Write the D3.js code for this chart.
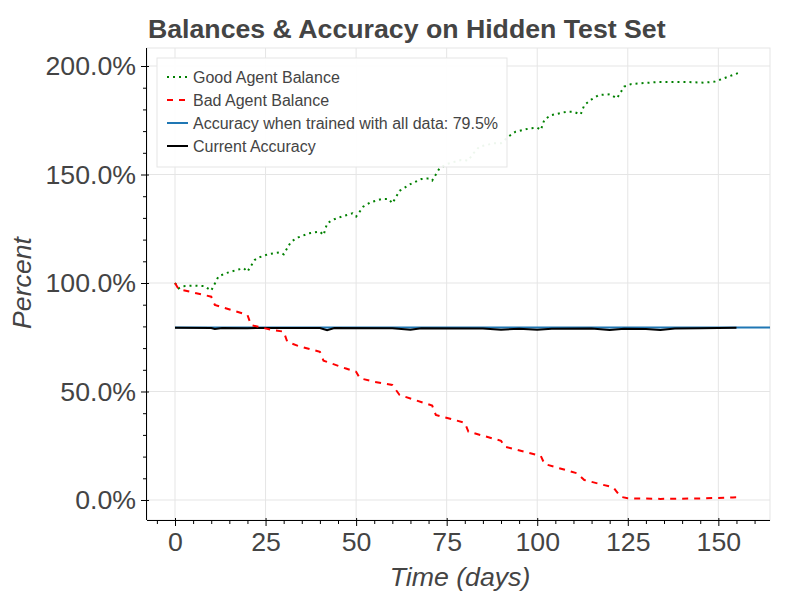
<!DOCTYPE html>
<meta charset="utf-8">
<script src="https://d3js.org/d3.v7.min.js"></script>
<style>
  body { margin: 0; background: #fff; }
  text { font-family: Arial, "Liberation Sans", Helvetica, sans-serif; }
</style>
<div id="my_dataviz"></div>
<script>
// ---- data (day, percent) ----
var goodDays = [0, 1, 2, 5, 8, 10, 12, 14, 17, 19, 20, 22, 23, 26, 29, 30, 32, 34, 37, 40, 41, 42, 44, 46, 49, 50,
  52, 54, 57, 59, 60, 62, 65, 68, 70, 71, 73, 75, 79, 81, 82, 84, 88, 90, 92, 94, 98, 100, 101, 102, 104, 108,
  110, 112, 113, 115, 117, 120, 122, 124, 126, 133, 142, 146, 149, 151, 156];
var goodValues = [100, 97.5, 98.5, 98.8, 98.6, 96.5, 103, 104.5, 106, 106.8, 105.2, 110.6, 111.7, 113.4, 114.1, 113.2,
  119, 121, 122.9, 123.7, 122.1, 127.5, 129.4, 130.6, 132.1, 130.6, 135.2, 137.2, 138.7, 138.7, 136.7, 142.5, 145.6,
  147.9, 148.2, 147.2, 152.8, 154.8, 156.7, 156.4, 159, 162.8, 164.4, 164.4, 167.4, 169.7, 171.3, 171.6, 170.5, 175.4,
  177.4, 178.9, 178.9, 177.7, 182, 184.6, 186.6, 187, 185.1, 190.5, 191.7, 192.6, 192.6, 192.3, 192.8, 194, 197.1];

var badDays = [0, 1, 10, 11, 20, 21, 27, 30, 31, 34, 40, 41, 47, 50, 51, 55, 60, 62, 69, 71, 72, 80, 81, 90, 91,
  101, 102, 111, 113, 121, 123, 125, 134, 145, 154, 156];
var badValues = [100, 97.2, 93.7, 89.9, 85.3, 80.6, 78.3, 77.6, 72.9, 71, 68.3, 64.2, 60.7, 59.1, 56.1, 54.5, 53,
  48.4, 44.6, 43.5, 39.2, 35.6, 31.5, 27.3, 24.6, 20.3, 16.6, 12.3, 9.2, 5.8, 1.5, 0.8, 0.5, 0.7, 1.2, 1.3];

var accDays = [0, 10, 11, 13, 20, 40, 42, 44, 60, 65, 68, 85, 90, 95, 100, 104, 115, 120, 124, 130, 134, 138, 145, 155];
var accValues = [79.4, 79.3, 78.8, 79.3, 79.2, 79.3, 78.3, 79.3, 79.1, 78.5, 79.1, 79.0, 78.5, 78.9, 78.4, 78.9,
  79.0, 78.3, 78.9, 78.8, 78.3, 79.0, 79.2, 79.4];

var fullAccuracy = 79.5;

var xTicks = [0, 25, 50, 75, 100, 125, 150];
var yTicks = [0, 50, 100, 150, 200];

var legendLabels = ["Good Agent Balance", "Bad Agent Balance",
  "Accuracy when trained with all data: 79.5%", "Current Accuracy"];

// ---- layout ----
var margin = {top: 48, right: 30, bottom: 80, left: 147},
    width = 800 - margin.left - margin.right,
    height = 600 - margin.top - margin.bottom;

var svg = d3.select("#my_dataviz")
  .append("svg")
    .attr("width", 800)
    .attr("height", 600);

var g = svg.append("g")
    .attr("transform", "translate(" + margin.left + "," + margin.top + ")");

var x = d3.scaleLinear().domain([-7.73, 164.26]).range([0, width]);
var y = d3.scaleLinear().domain([-9.22, 208.3]).range([height, 0]);

// grid
g.append("g").selectAll("line").data(xTicks).enter().append("line")
  .attr("x1", d => x(d)).attr("x2", d => x(d))
  .attr("y1", 0).attr("y2", height)
  .attr("stroke", "#e5e5e5");
g.append("g").selectAll("line").data(yTicks).enter().append("line")
  .attr("x1", 0).attr("x2", width)
  .attr("y1", d => y(d)).attr("y2", d => y(d))
  .attr("stroke", "#e5e5e5");

// outline
g.append("rect")
  .attr("x", 0).attr("y", 0).attr("width", width).attr("height", height)
  .attr("fill", "none").attr("stroke", "#e5e5e5");

// lines
var zip = function(a, b) { return a.map(function(d, i) { return [d, b[i]]; }); };
var line = d3.line().x(d => x(d[0])).y(d => y(d[1]));

g.append("path")
  .datum([[0, fullAccuracy], [x.domain()[1], fullAccuracy]])
  .attr("d", line)
  .attr("fill", "none").attr("stroke", "#1f77b4").attr("stroke-width", 2);

g.append("path")
  .datum(zip(accDays, accValues))
  .attr("d", line)
  .attr("fill", "none").attr("stroke", "black").attr("stroke-width", 2);

g.append("path")
  .datum(zip(goodDays, goodValues))
  .attr("d", line)
  .attr("fill", "none").attr("stroke", "green").attr("stroke-width", 2)
  .attr("stroke-dasharray", "2,4");

g.append("path")
  .datum(zip(badDays, badValues))
  .attr("d", line)
  .attr("fill", "none").attr("stroke", "red").attr("stroke-width", 2)
  .attr("stroke-dasharray", "6,6");

// axes
function styleAxis(sel) {
  sel.select(".domain").attr("stroke", "black");
  sel.selectAll(".tick line").attr("stroke", "black");
  sel.selectAll(".tick text").attr("fill", "#444").style("font-size", "26.7px")
    .style("font-family", "Arial, 'Liberation Sans', sans-serif");
}

var xMinor = d3.range(-5, 165, 5).filter(d => xTicks.indexOf(d) < 0);
var yMinor = d3.range(0, 210, 10).filter(d => yTicks.indexOf(d) < 0);

var gx = g.append("g").attr("transform", "translate(0," + height + ")")
  .call(d3.axisBottom(x).tickValues(xMinor).tickSize(4).tickSizeOuter(0).tickFormat(""));
gx.select(".domain").remove();
gx.selectAll("line").attr("stroke", "black");
var gxMaj = g.append("g").attr("transform", "translate(0," + height + ")")
  .call(d3.axisBottom(x).tickValues(xTicks).tickSize(6).tickSizeOuter(0).tickPadding(6));
styleAxis(gxMaj);
gxMaj.selectAll(".tick line").attr("y1", -2);
gxMaj.select(".domain").attr("d", "M0,0.5H" + width);

var gy = g.append("g")
  .call(d3.axisLeft(y).tickValues(yMinor).tickSize(4).tickSizeOuter(0).tickFormat(""));
gy.select(".domain").remove();
gy.selectAll("line").attr("stroke", "black");
var gyMaj = g.append("g")
  .call(d3.axisLeft(y).tickValues(yTicks).tickSize(6).tickSizeOuter(0).tickPadding(5)
    .tickFormat(d => d3.format(".1%")(d / 100)));
styleAxis(gyMaj);
gyMaj.selectAll(".tick line").attr("x1", 2);
gyMaj.select(".domain").attr("d", "M-0.5,0V" + height);

// axis labels
svg.append("text")
  .attr("x", 460)
  .attr("y", 586)
  .attr("text-anchor", "middle")
  .style("font-size", "26.7px").style("font-style", "italic").attr("fill", "#444")
  .text("Time (days)");
svg.append("text")
  .attr("transform", "translate(31,283) rotate(-90)")
  .attr("text-anchor", "middle")
  .style("font-size", "26.7px").style("font-style", "italic").attr("fill", "#444")
  .text("Percent");

// title
svg.append("text")
  .attr("x", 148).attr("y", 38)
  .style("font-size", "26.7px").style("font-weight", "bold").attr("fill", "#444")
  .text("Balances & Accuracy on Hidden Test Set");

// legend
var lg = svg.append("g").attr("transform", "translate(157,58)");
lg.append("rect")
  .attr("width", 350).attr("height", 109)
  .attr("fill", "white").attr("fill-opacity", 0.93)
  .attr("stroke", "#e5e5e5");
var legendStyles = [
  {color: "green", dash: "2,4"},
  {color: "red", dash: "6,6"},
  {color: "#1f77b4", dash: null},
  {color: "black", dash: null}
];
legendLabels.forEach(function(label, i) {
  var cy = 19 + i * 23;
  lg.append("line")
    .attr("x1", 10).attr("x2", 31).attr("y1", cy).attr("y2", cy)
    .attr("stroke", legendStyles[i].color).attr("stroke-width", 2)
    .attr("stroke-dasharray", legendStyles[i].dash);
  lg.append("text")
    .attr("x", 36).attr("y", cy)
    .attr("dominant-baseline", "central")
    .style("font-size", "16px").attr("fill", "#444")
    .text(label);
});
</script>
